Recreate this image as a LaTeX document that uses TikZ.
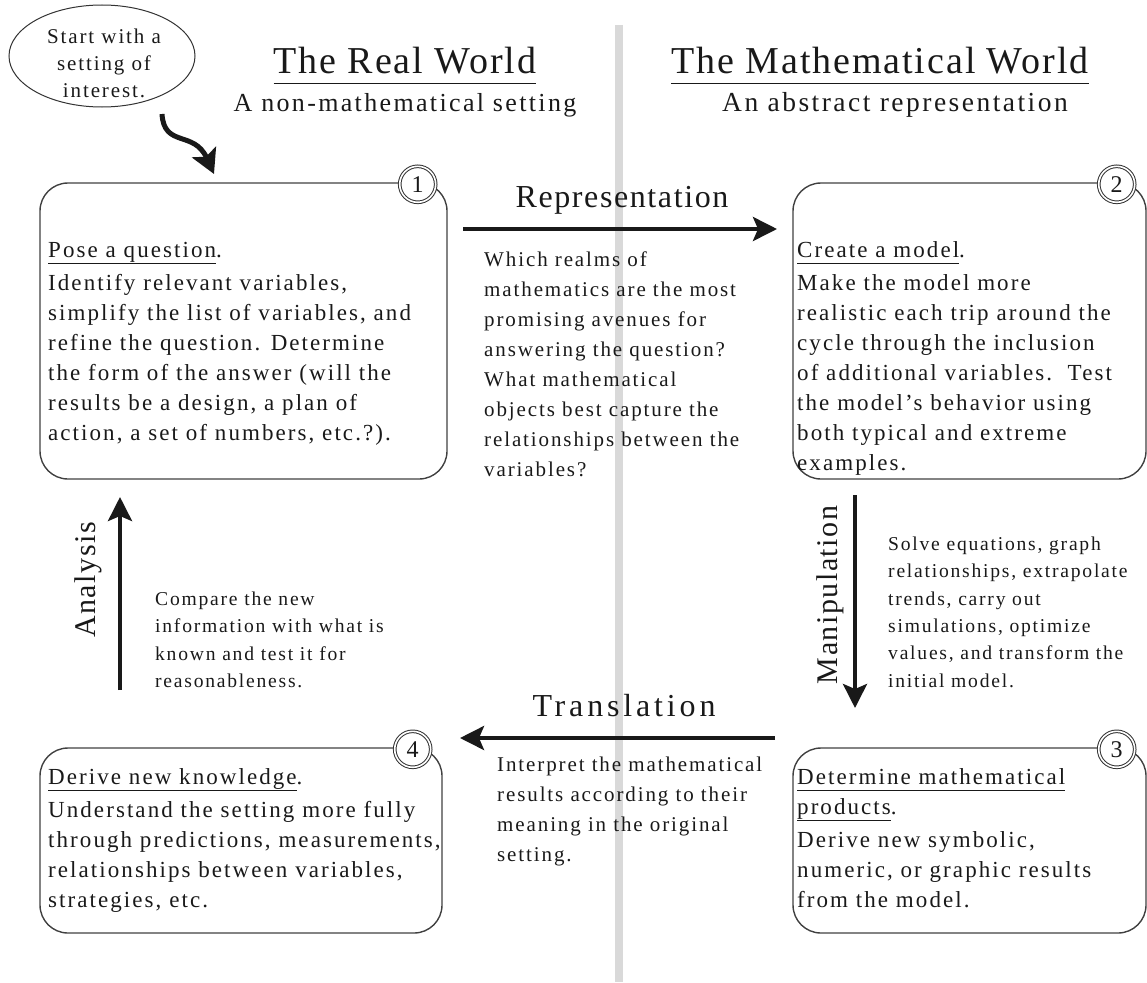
\documentclass[tikz,border=0pt]{standalone}
\usepackage{fontspec}
\setmainfont{Liberation Serif}
\newfontfamily\bodyfont[LetterSpace=9]{Liberation Serif}
\newfontfamily\headfont[LetterSpace=5]{Liberation Serif}
\newfontfamily\wideheadfont[LetterSpace=12]{Liberation Serif}
\usetikzlibrary{arrows.meta,shapes.geometric}
\newcommand\uln[1]{\underline{#1\vphantom{g}}}

\begin{document}
\begin{tikzpicture}[x=1pt,y=-1pt,
  stagebox/.style={draw=black!75, line width=1.4pt, rounded corners=28pt, inner sep=0pt},
  badge/.style={circle, draw=black!80, double=white, double distance=1.6pt, line width=1pt,
    fill=white, minimum size=36pt, inner sep=0pt, text=black!90, font=\fontsize{24}{24}\selectfont},
  body/.style={font=\bodyfont\fontsize{23}{30}\selectfont, align=left, anchor=north west,
    inner sep=0pt, text=black!90},
  note/.style={font=\bodyfont\fontsize{21}{30}\selectfont, align=left, anchor=north west,
    inner sep=0pt, text=black!90},
  small/.style={font=\bodyfont\fontsize{19.6}{27.4}\selectfont, align=left, anchor=north west,
    inner sep=0pt, text=black!90},
  title/.style={font=\headfont\fontsize{38}{42}\selectfont, anchor=base, inner sep=0pt, text=black!90},
  subtitle/.style={font=\bodyfont\fontsize{26}{30}\selectfont, anchor=base, inner sep=0pt, text=black!90},
  steplabel/.style={font=\headfont\fontsize{32}{36}\selectfont, inner sep=0pt, text=black!90},
  flow/.style={line width=4pt, black!90, -{Stealth[length=24pt,width=24pt,inset=5pt]}},
]
\useasboundingbox (0,0) rectangle (1147,982);

% divider between the two worlds
\draw[line width=8pt, black!15] (619,25) -- (619,982);

% headings
\node[title] (realT) at (405,74) {\uln{The Real World}};
\node[subtitle] (realS) at (405,111) {A non-mathematical setting};
\node[title] (mathT) at (880,74) {\uln{The Mathematical World}};
\node[subtitle, font=\bodyfont\fontsize{27.5}{30}\selectfont] (mathS) at (895,111) {An abstract representation};

% starting bubble
\node[ellipse, draw=black!80, line width=1pt, minimum width=186pt, minimum height=102pt,
  inner sep=0pt] (start) at (102,56) {};
\node[align=center, inner sep=0pt, anchor=north, text=black!90,
  font=\bodyfont\fontsize{21}{27}\selectfont] (startT) at (104,24) {\strut Start with a\\ setting of\\ interest.};
\coordinate (startout) at (162,114);
\coordinate (startin) at (214,174);
\draw[line width=5pt, black!90, -{Stealth[length=24pt,width=26pt,inset=5pt]}]
  (startout) .. controls (164,148) and (194,130) .. (startin);

% the four stages
\node[stagebox, minimum width=407pt, minimum height=296pt] (box1) at (243.5,331) {};
\node[stagebox, minimum width=353pt, minimum height=296pt] (box2) at (969.5,331) {};
\node[stagebox, minimum width=353pt, minimum height=185pt] (box3) at (969.5,840.5) {};
\node[stagebox, minimum width=402pt, minimum height=185pt] (box4) at (241,840.5) {};

\node[badge] (n1) at ([xshift=-30pt,yshift=-2pt]box1.north east) {1};
\node[badge] (n2) at ([xshift=-30pt,yshift=-2pt]box2.north east) {2};
\node[badge] (n3) at ([xshift=-30pt,yshift=-2pt]box3.north east) {3};
\node[badge] (n4) at ([xshift=-30pt,yshift=-2pt]box4.north east) {4};

\node[body] (t1) at (48,236) {\strut\uln{Pose a question}.\\[3pt]
  Identify relevant variables,\\ simplify the list of variables, and\\
  refine the question. Determine\\ the form of the answer (will the\\
  results be a design, a plan of\\ action, a set of numbers, etc.?).};
\node[body] (t2) at (797,236) {\strut\uln{Create a model}.\\[3pt]
  Make the model more\\ realistic each trip around the\\
  cycle through the inclusion\\ of additional variables.\ \ Test\\
  the model’s behavior using\\ both typical and extreme\\ examples.};
\node[body] (t3) at (797,763) {\strut\uln{Determine mathematical}\\ \uln{products}.\\[3pt]
  Derive new symbolic,\\ numeric, or graphic results\\ from the model.};
\node[body] (t4) at (48,763) {\strut\uln{Derive new knowledge}.\\[3pt]
  Understand the setting more fully\\ through predictions, measurements,\\
  relationships between variables,\\ strategies, etc.};

% transitions between stages
\coordinate (repA) at (463,229);
\coordinate (repB) at (777,229);
\draw[flow] (repA) -- (repB);
\node[steplabel] (repL) at (622,200) {Representation};
\node[note] (repN) at (484,245) {\strut Which realms of\\ mathematics are the most\\
  promising avenues for\\ answering the question?\\ What mathematical\\
  objects best capture the\\ relationships between the\\ variables?};

\coordinate (manA) at (855,495);
\coordinate (manB) at (855,708);
\draw[flow] (manA) -- (manB);
\node[steplabel, rotate=90, font=\headfont\fontsize{30}{34}\selectfont] (manL) at (830,595) {Manipulation};
\node[small] (manN) at (888,531) {\strut Solve equations, graph\\ relationships, extrapolate\\
  trends, carry out\\ simulations, optimize\\ values, and transform the\\ initial model.};

\coordinate (traA) at (775,738);
\coordinate (traB) at (460,738);
\draw[flow] (traA) -- (traB);
\node[steplabel, font=\wideheadfont\fontsize{32}{36}\selectfont] (traL) at (624,706) {Translation};
\node[note] (traN) at (497,750) {\strut Interpret the mathematical\\ results according to their\\
  meaning in the original\\ setting.};

\coordinate (anaA) at (120,690);
\coordinate (anaB) at (120,497);
\draw[flow] (anaA) -- (anaB);
\node[steplabel, rotate=90, font=\headfont\fontsize{30}{34}\selectfont] (anaL) at (88,580) {Analysis};
\node[small] (anaN) at (155,586) {\strut Compare the new\\ information with what is\\
  known and test it for\\ reasonableness.};
\end{tikzpicture}
\end{document}
